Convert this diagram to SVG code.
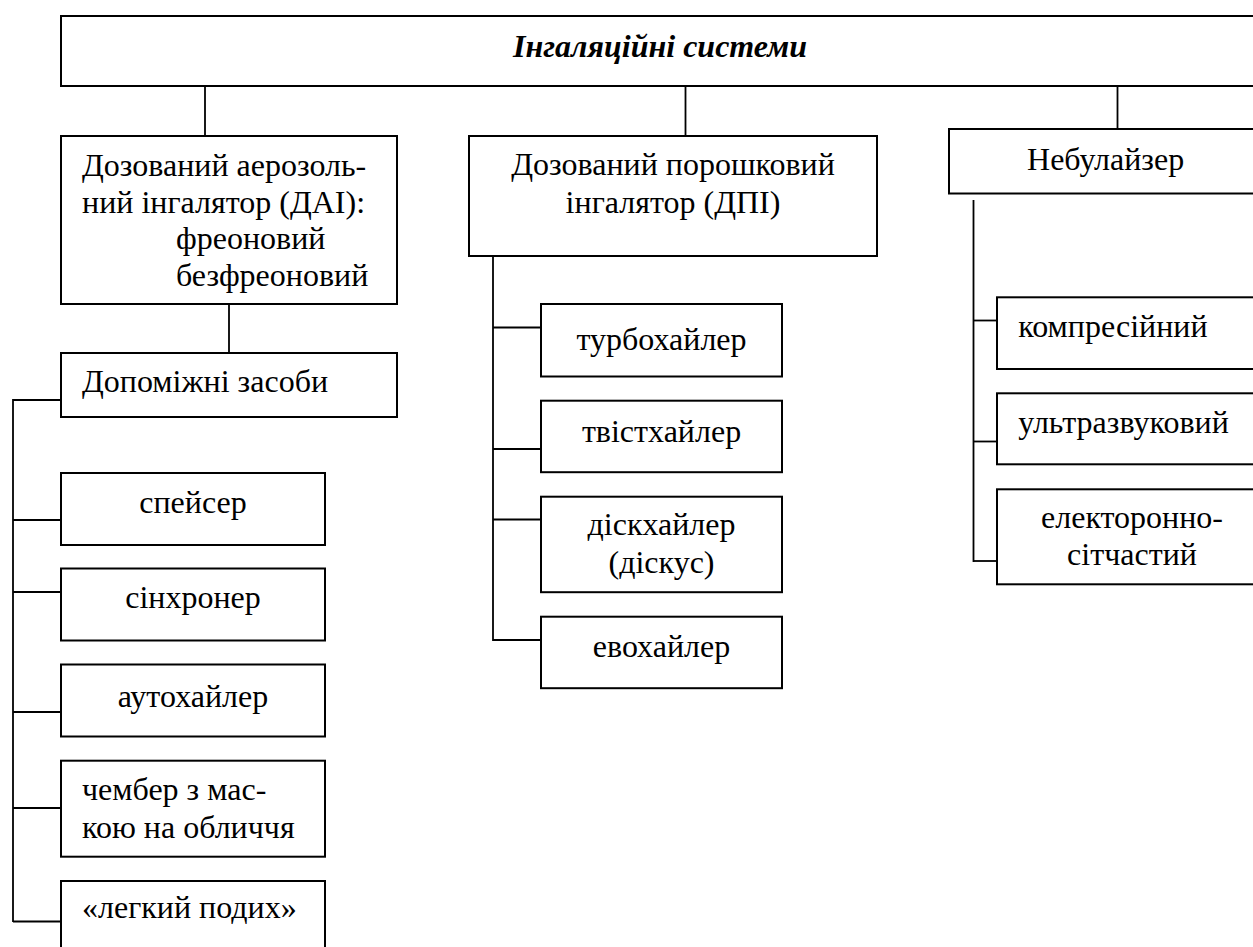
<svg xmlns="http://www.w3.org/2000/svg" width="1253" height="947" viewBox="0 0 1253 947">
<style>
rect{fill:#fff;stroke:#000;stroke-width:2}
.c line{stroke:#000;stroke-width:1.8}
text{font-family:"Liberation Serif","Times New Roman","DejaVu Serif",serif;font-size:32px;fill:#000;font-style:normal;font-weight:normal}
.m{text-anchor:middle}
.t{font-weight:bold;font-style:italic}
</style>
<rect x="0" y="0" width="1253" height="947" style="stroke:none"/>
<g class="c" id="connectors">
<line x1="205" y1="86" x2="205" y2="136"/>
<line x1="685.5" y1="86" x2="685.5" y2="136"/>
<line x1="1117.5" y1="86" x2="1117.5" y2="129"/>
<line x1="229" y1="304" x2="229" y2="353"/>
<line x1="13" y1="400" x2="61" y2="400"/>
<line x1="13" y1="399" x2="13" y2="922"/>
<line x1="13" y1="520" x2="61" y2="520"/>
<line x1="13" y1="592" x2="61" y2="592"/>
<line x1="13" y1="712" x2="61" y2="712"/>
<line x1="13" y1="808" x2="61" y2="808"/>
<line x1="13" y1="921.5" x2="61" y2="921.5"/>
<line x1="493" y1="256" x2="493" y2="641"/>
<line x1="493" y1="327.5" x2="541" y2="327.5"/>
<line x1="493" y1="449" x2="541" y2="449"/>
<line x1="493" y1="519.5" x2="541" y2="519.5"/>
<line x1="493" y1="640" x2="541" y2="640"/>
<line x1="973.5" y1="200" x2="973.5" y2="562"/>
<line x1="973.5" y1="320.5" x2="997" y2="320.5"/>
<line x1="973.5" y1="441.5" x2="997" y2="441.5"/>
<line x1="973.5" y1="561" x2="997" y2="561"/>
</g>
<g id="root"><rect x="61" y="16" width="1200" height="70"/><text class="m t" x="660" y="57">Інгаляційні системи</text></g>
<g id="dai"><rect x="61" y="136" width="336" height="168"/>
<text x="82" y="176">Дозований аерозоль-</text>
<text x="82" y="212.7">ний інгалятор (ДАІ):</text>
<text x="176" y="249.3">фреоновий</text>
<text x="176" y="286">безфреоновий</text></g>
<g id="dop"><rect x="61" y="353" width="336" height="64"/><text x="82" y="392">Допоміжні засоби</text></g>
<g id="spacer"><rect x="61" y="473" width="264" height="72"/><text class="m" x="193" y="512.7">спейсер</text></g>
<g id="synchroner"><rect x="61" y="568.5" width="264" height="72"/><text class="m" x="193" y="608.3">сінхронер</text></g>
<g id="autohaler"><rect x="61" y="664.5" width="264" height="72"/><text class="m" x="193" y="706.7">аутохайлер</text></g>
<g id="chamber"><rect x="61" y="760.7" width="264" height="96"/><text x="82" y="800">чембер з мас-</text><text x="82" y="838.3">кою на обличчя</text></g>
<g id="easybreath"><rect x="61" y="881" width="264" height="80"/><text x="82" y="918.3">«легкий подих»</text></g>
<g id="dpi"><rect x="469" y="136" width="408" height="120"/>
<text class="m" x="673" y="175">Дозований порошковий</text>
<text class="m" x="673" y="213">інгалятор (ДПІ)</text></g>
<g id="turbo"><rect x="541" y="304" width="241" height="72.5"/><text class="m" x="661.5" y="350">турбохайлер</text></g>
<g id="twist"><rect x="541" y="400.7" width="241" height="71.5"/><text class="m" x="661.5" y="441.7">твістхайлер</text></g>
<g id="disk"><rect x="541" y="496.7" width="241" height="95.5"/><text class="m" x="661.5" y="535">діскхайлер</text><text class="m" x="661.5" y="573.3">(діскус)</text></g>
<g id="evo"><rect x="541" y="616.7" width="241" height="71.5"/><text class="m" x="661.5" y="656.7">евохайлер</text></g>
<g id="neb"><rect x="949" y="129" width="320" height="64.5"/><text class="m" x="1105.6" y="170">Небулайзер</text></g>
<g id="comp"><rect x="997" y="297.3" width="270" height="71.7"/><text x="1018.3" y="337.3">компресійний</text></g>
<g id="ultra"><rect x="997" y="393.3" width="270" height="71"/><text x="1018.3" y="433.3">ультразвуковий</text></g>
<g id="mesh"><rect x="997" y="489.3" width="270" height="95"/><text class="m" x="1132" y="528.3">електоронно-</text><text class="m" x="1132" y="565">сітчастий</text></g>
</svg>
